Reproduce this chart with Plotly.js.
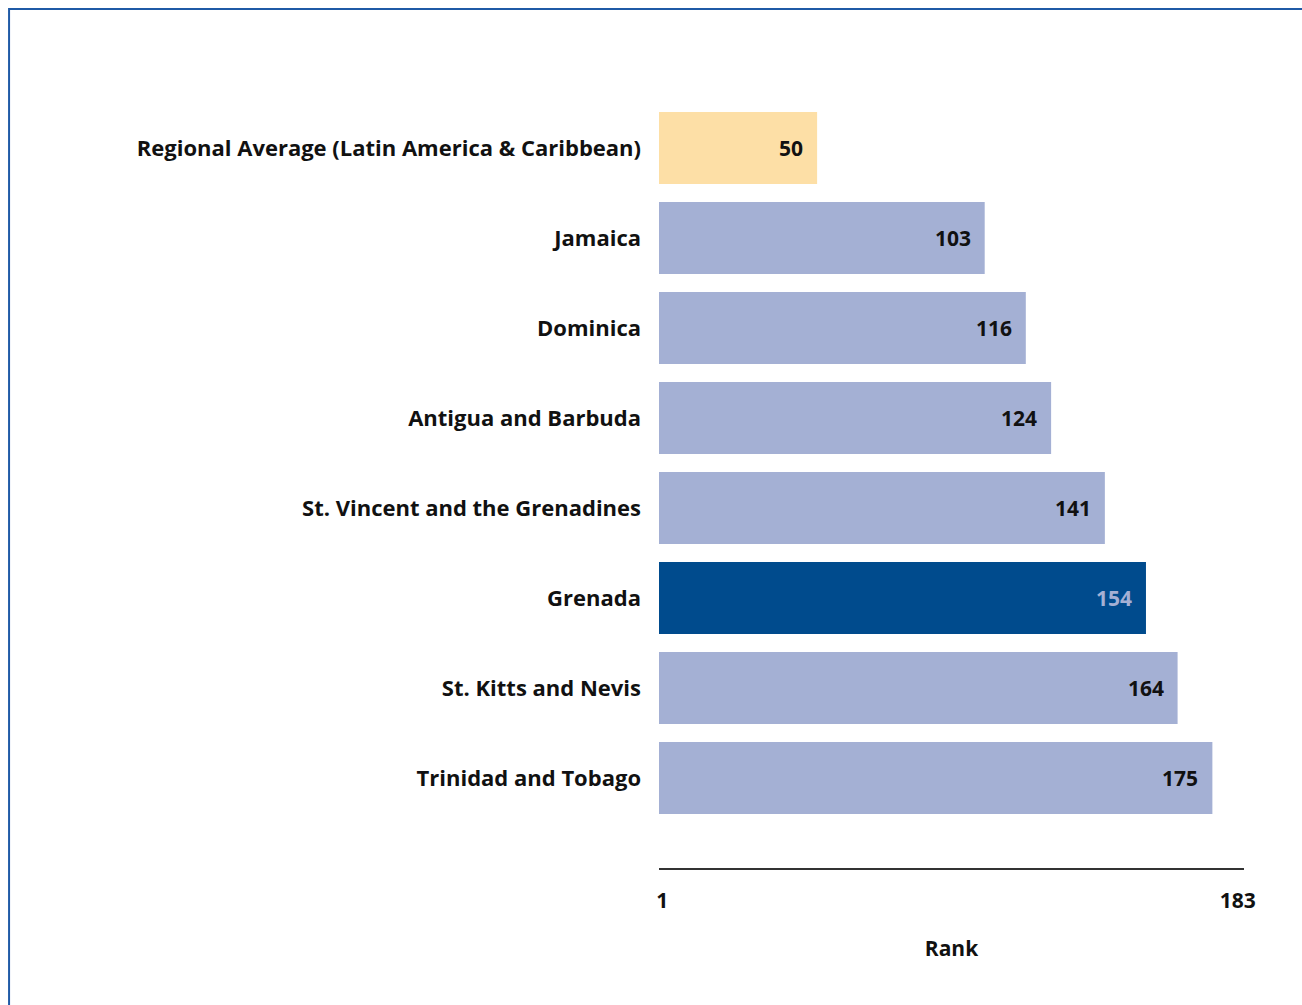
<!DOCTYPE html>
<html>
<head>
<meta charset="utf-8">
<script src="https://cdn.plot.ly/plotly-3.0.1.min.js"></script>
<style>
html,body{margin:0;padding:0;background:#fff;}
#chart{width:1302px;height:1005px;}
</style>
</head>
<body>
<div id="chart"></div>
<script>
var countries = [
  "Regional Average (Latin America & Caribbean)",
  "Jamaica",
  "Dominica",
  "Antigua and Barbuda",
  "St. Vincent and the Grenadines",
  "Grenada",
  "St. Kitts and Nevis",
  "Trinidad and Tobago"
];
var ranks = [50, 103, 116, 124, 141, 154, 164, 175];
var axisTickValues = [1, 183];
var axisTickLabels = ["1", "183"];
var regionalName = "Regional Average (Latin America & Caribbean)";
var focusName = "Grenada";

var FONT = "'Open Sans', 'Noto Sans', sans-serif";
var barColors = countries.map(function(c){
  if (c === regionalName) return "#FDDFA6";
  if (c === focusName) return "#004B8D";
  return "#A4B0D4";
});
var textColors = countries.map(function(c){
  return c === focusName ? "#A4B0D4" : "#111111";
});

var trace = {
  type: "bar",
  orientation: "h",
  x: ranks,
  y: countries,
  base: 0,
  marker: {color: barColors, line: {width: 0}},
  hoverinfo: "none"
};

var annotations = countries.map(function(c, i){
  return {
    x: ranks[i], y: c, xref: "x", yref: "y",
    text: "<b>" + ranks[i] + "</b>",
    showarrow: false, xanchor: "right", yanchor: "middle",
    xshift: -12,
    font: {family: FONT, size: 21, color: textColors[i]}
  };
});

var layout = {
  width: 1302, height: 1005,
  margin: {l: 659, r: 58, t: 103, b: 137},
  paper_bgcolor: "#ffffff",
  plot_bgcolor: "#ffffff",
  showlegend: false,
  bargap: 0.2,
  font: {family: FONT, size: 21, color: "#111111"},
  xaxis: {
    range: [0, 185],
    showgrid: false, zeroline: false,
    showline: true, linecolor: "#333333", linewidth: 2,
    ticks: "",
    tickvals: axisTickValues,
    ticktext: axisTickLabels.map(function(t){return "<b>" + t + "</b>";}),
    tickfont: {family: FONT, size: 21, color: "#111111"},
    ticklabelstandoff: 13,
    title: {text: "<b>Rank</b>", font: {family: FONT, size: 21, color: "#111111"}, standoff: 28},
    fixedrange: true
  },
  yaxis: {
    type: "category",
    range: [8.0, -0.5],
    showgrid: false, zeroline: false, showline: false,
    ticks: "",
    ticklabelstandoff: 17,
    tickfont: {family: FONT, size: 22, color: "#111111"},
    tickvals: countries,
    ticktext: countries.map(function(c){return "<b>" + c + "</b>";}),
    fixedrange: true
  },
  annotations: annotations,
  shapes: [{
    type: "rect", xref: "paper", yref: "paper",
    x0: -1.111, x1: 1.2, y0: -0.4, y1: 1.123,
    line: {color: "#1F5AA6", width: 2}, fillcolor: "rgba(0,0,0,0)"
  }]
};

Plotly.newPlot("chart", [trace], layout, {displayModeBar: false, staticPlot: true});
</script>
</body>
</html>
